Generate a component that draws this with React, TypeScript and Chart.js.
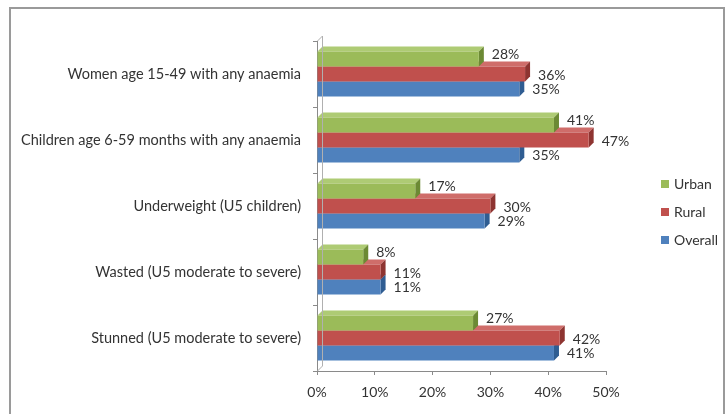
import React, { useEffect, useRef } from 'react';
import { Chart, registerables } from 'chart.js';

Chart.register(...registerables);

const categories = [
  'Women age 15-49 with any anaemia',
  'Children age 6-59 months with any anaemia',
  'Underweight (U5 children)',
  'Wasted (U5 moderate to severe)',
  'Stunned (U5 moderate to severe)',
];
const seriesNames = ['Urban', 'Rural', 'Overall'];
const urban = [28, 41, 17, 8, 27];
const rural = [36, 47, 30, 11, 42];
const overall = [35, 35, 29, 11, 41];
const xMin = 0;
const xMax = 50;
const xStep = 10;

const frontColors = ['#9bbb59', '#c0504d', '#4f81bd'];
const sideColors = ['#6c8a34', '#8e3431', '#2f5d92'];
const topColors = ['#aecb74', '#cf6d6a', '#6f97cb'];
const labelDy = [-5, 1, 1];
const FONT = 'Lato, "Open Sans", sans-serif';
const TEXT = '#333333';
const DEPTH_X = 5;
const DEPTH_Y = 5;

const framePlugin = {
  id: 'frame',
  beforeDraw(chart: any) {
    const ctx = chart.ctx;
    ctx.save();
    ctx.fillStyle = '#ffffff';
    ctx.fillRect(0, 0, chart.width, chart.height);
    ctx.strokeStyle = '#9a9a9a';
    ctx.lineWidth = 2;
    ctx.strokeRect(10, 8, 714, chart.height + 10);
    ctx.restore();
  },
};

const depthPlugin = {
  id: 'depth',
  beforeDatasetsDraw(chart: any) {
    const ctx = chart.ctx;
    ctx.save();
    for (let d = chart.data.datasets.length - 1; d >= 0; d--) {
      const meta = chart.getDatasetMeta(d);
      meta.data.forEach((el: any) => {
        const p = el.getProps(['x', 'y', 'base', 'height'], true);
        const top = p.y - p.height / 2;
        const bottom = p.y + p.height / 2;
        ctx.fillStyle = topColors[d];
        ctx.beginPath();
        ctx.moveTo(p.base, top);
        ctx.lineTo(p.base + DEPTH_X, top - DEPTH_Y);
        ctx.lineTo(p.x + DEPTH_X, top - DEPTH_Y);
        ctx.lineTo(p.x, top);
        ctx.closePath();
        ctx.fill();
        ctx.fillStyle = sideColors[d];
        ctx.beginPath();
        ctx.moveTo(p.x, top);
        ctx.lineTo(p.x + DEPTH_X, top - DEPTH_Y);
        ctx.lineTo(p.x + DEPTH_X, bottom - DEPTH_Y);
        ctx.lineTo(p.x, bottom);
        ctx.closePath();
        ctx.fill();
      });
    }
    ctx.restore();
  },
  afterDatasetsDraw(chart: any) {
    const ctx = chart.ctx;
    ctx.save();
    ctx.font = '14px ' + FONT;
    ctx.fillStyle = TEXT;
    ctx.textBaseline = 'middle';
    ctx.textAlign = 'left';
    chart.data.datasets.forEach((ds: any, d: number) => {
      const meta = chart.getDatasetMeta(d);
      meta.data.forEach((el: any, i: number) => {
        const p = el.getProps(['x', 'y'], true);
        ctx.fillText(ds.data[i] + '%', p.x + DEPTH_X + 8, p.y + labelDy[d]);
      });
    });
    const legendY = [184, 212, 240];
    seriesNames.forEach((name, i) => {
      ctx.fillStyle = frontColors[i];
      ctx.fillRect(661, legendY[i] - 4, 8, 8);
      ctx.fillStyle = TEXT;
      ctx.fillText(name, 674, legendY[i]);
    });
    const a = chart.chartArea;
    ctx.strokeStyle = '#b0b0b0';
    ctx.lineWidth = 1;
    ctx.beginPath();
    ctx.moveTo(a.left + 0.5, a.top);
    ctx.lineTo(a.left + 5.5, a.top - 5);
    ctx.lineTo(a.left + 5.5, a.bottom - 5);
    ctx.lineTo(a.left + 0.5, a.bottom);
    ctx.stroke();
    ctx.restore();
  },
};

export default function App() {
  const ref = useRef<HTMLCanvasElement | null>(null);
  useEffect(() => {
    document.body.style.margin = '0';
    if (!ref.current) return;
    const chart = new Chart(ref.current, {
      type: 'bar',
      data: {
        labels: categories,
        datasets: [
          { label: seriesNames[0], data: urban, backgroundColor: frontColors[0] },
          { label: seriesNames[1], data: rural, backgroundColor: frontColors[1] },
          { label: seriesNames[2], data: overall, backgroundColor: frontColors[2] },
        ],
      },
      options: {
        indexAxis: 'y',
        responsive: false,
        animation: false,
        devicePixelRatio: 1,
        datasets: { bar: { categoryPercentage: 0.68, barPercentage: 1 } },
        layout: { padding: { top: 41, right: 121, left: 0, bottom: 0 } },
        plugins: { legend: { display: false }, tooltip: { enabled: false } },
        scales: {
          y: {
            afterFit(s: any) { s.width = 317; },
            ticks: { color: TEXT, font: { family: FONT, size: 14.5 }, padding: 12 },
            grid: { drawOnChartArea: false, drawTicks: true, tickLength: 4, color: '#8a8a8a', offset: true },
            border: { color: '#8a8a8a' },
          },
          x: {
            min: xMin,
            max: xMax,
            afterFit(s: any) { s.height = 43; },
            ticks: {
              stepSize: xStep,
              color: TEXT,
              font: { family: FONT, size: 14 },
              padding: 9,
              callback: (v: any) => v + '%',
            },
            grid: { drawOnChartArea: false, drawTicks: true, tickLength: 4, color: '#8a8a8a' },
            border: { color: '#8a8a8a' },
          },
        },
      } as any,
      plugins: [framePlugin, depthPlugin],
    });
    return () => chart.destroy();
  }, []);
  return (
    <div style={{ width: 727, height: 414 }}>
      <canvas ref={ref} width={727} height={414} />
    </div>
  );
}
